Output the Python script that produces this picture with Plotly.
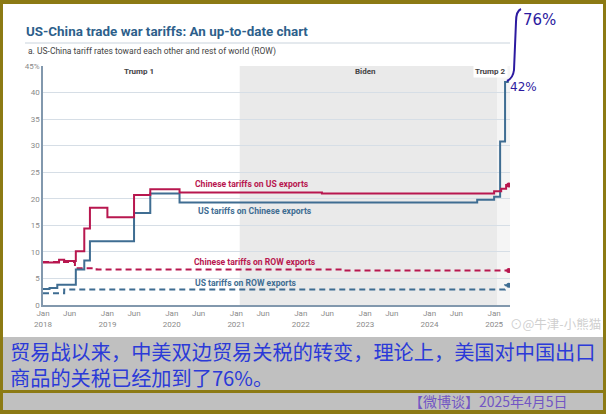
import plotly.graph_objects as go

# ---------------- data ----------------
cn_us_dates = ["2018-01-01", "2018-04-02", "2018-05-01", "2018-07-06", "2018-08-23", "2018-09-24",
               "2019-01-01", "2019-06-01", "2019-09-01", "2020-02-14", "2022-05-01",
               "2025-01-01", "2025-02-10", "2025-03-10", "2025-03-25"]
cn_us_vals = [8.0, 8.5, 8.3, 10.1, 14.4, 18.3, 16.5, 20.7, 21.8, 21.2, 21.0, 21.4, 21.9, 22.6, 22.6]

us_cn_dates = ["2018-01-01", "2018-02-07", "2018-03-23", "2018-07-06", "2018-08-23", "2018-09-24",
               "2019-06-01", "2019-09-01", "2020-02-14", "2024-09-27", "2025-01-01",
               "2025-02-04", "2025-03-04", "2025-03-25"]
us_cn_vals = [3.0, 3.2, 3.8, 6.7, 8.4, 12.0, 17.3, 21.0, 19.3, 19.8, 20.4, 30.8, 42.0, 42.0]

cn_row_dates = ["2018-01-01", "2018-07-01", "2018-11-01", "2022-09-01", "2025-03-25"]
cn_row_vals = [8.1, 6.9, 6.7, 6.5, 6.5]

us_row_dates = ["2018-01-01", "2018-05-01", "2025-03-04", "2025-03-25"]
us_row_vals = [2.2, 2.9, 3.7, 3.7]

x_tick_dates = []
x_tick_text = []
for yr in range(2018, 2026):
    x_tick_dates.append(f"{yr}-01-01")
    x_tick_text.append(f"Jan<br>{yr}")
    if yr < 2025:
        x_tick_dates.append(f"{yr}-06-01")
        x_tick_text.append("Jun")

y_tick_vals = [0, 5, 10, 15, 20, 25, 30, 35, 40, 45]
y_tick_text = ["0", "5", "10", "15", "20", "25", "30", "35", "40", "45%"]

periods = ["Trump 1", "Biden", "Trump 2"]
period_starts = ["2018-01-01", "2021-01-20", "2025-01-20"]
period_ends = ["2021-01-20", "2025-01-20", "2025-04-01"]

# ---------------- geometry helpers (pixel -> paper) ----------------
W, H = 606, 414
L, R, T, B = 43, 510, 66, 305
PW, PH = R - L, B - T


def px(x):
    return (x - L) / PW


def py(y):
    return (B - y) / PH


RED = "#b8174f"
BLUE = "#3f6d92"
GOLD = "#8c7a14"
CAPBG = "#c0c0c0"
INK = "#2c1aa0"

fig = go.Figure()

fig.add_trace(go.Scatter(x=us_row_dates, y=us_row_vals, mode="lines", line_shape="hv",
                         line=dict(color=BLUE, width=2, dash="6px,4px"), hoverinfo="skip"))
fig.add_trace(go.Scatter(x=cn_row_dates, y=cn_row_vals, mode="lines", line_shape="hv",
                         line=dict(color=RED, width=2, dash="6px,4px"), hoverinfo="skip"))
fig.add_trace(go.Scatter(x=us_cn_dates, y=us_cn_vals, mode="lines", line_shape="hv",
                         line=dict(color=BLUE, width=2), hoverinfo="skip"))
fig.add_trace(go.Scatter(x=cn_us_dates, y=cn_us_vals, mode="lines", line_shape="hv",
                         line=dict(color=RED, width=2), hoverinfo="skip"))
# end dots
fig.add_trace(go.Scatter(x=[cn_us_dates[-1], cn_row_dates[-1], us_row_dates[-1]],
                         y=[cn_us_vals[-1], cn_row_vals[-1], us_row_vals[-1]],
                         mode="markers", marker=dict(color=[RED, RED, BLUE], size=5),
                         hoverinfo="skip"))

shapes = []
# white panel
shapes.append(dict(type="rect", xref="paper", yref="paper", layer="below",
                   x0=px(3), x1=px(603), y0=py(337), y1=py(4),
                   fillcolor="white", line=dict(width=0)))
# caption grey
shapes.append(dict(type="rect", xref="paper", yref="paper", layer="below",
                   x0=px(3), x1=px(603), y0=py(390), y1=py(337),
                   fillcolor=CAPBG, line=dict(width=0)))
shapes.append(dict(type="rect", xref="paper", yref="paper", layer="below",
                   x0=px(3), x1=px(603), y0=py(410), y1=py(393),
                   fillcolor=CAPBG, line=dict(width=0)))
# period shading
shapes.append(dict(type="rect", xref="x", yref="y", layer="below",
                   x0=period_starts[1], x1=period_ends[1], y0=0, y1=45,
                   fillcolor="#eaeaea", line=dict(width=0)))
shapes.append(dict(type="rect", xref="x", yref="y", layer="below",
                   x0=period_starts[2], x1=period_ends[2], y0=0, y1=45,
                   fillcolor="#f5f5f5", line=dict(width=0)))
# title underline
shapes.append(dict(type="line", xref="paper", yref="paper", layer="below",
                   x0=px(25), x1=px(510), y0=py(43), y1=py(43),
                   line=dict(color="#c9d3dc", width=1)))
# handwritten bracket
path = (f"M {px(521)},{py(9)} Q {px(516)},{py(11)} {px(516)},{py(22)} "
        f"L {px(514)},{py(70)} Q {px(513)},{py(78)} {px(507)},{py(81)}")
shapes.append(dict(type="path", xref="paper", yref="paper", path=path,
                   line=dict(color=INK, width=2)))

annotations = []


def ann(text, x, y, size, color, xanchor="left", bold=False, family="Roboto", **kw):
    annotations.append(dict(text=(f"<b>{text}</b>" if bold else text), x=px(x), y=py(y),
                            xref="paper", yref="paper", xanchor=xanchor, yanchor="middle",
                            showarrow=False, font=dict(size=size, color=color, family=family), **kw))


ann("US-China trade war tariffs: An up-to-date chart", 24, 32, 13.4, "#2d5f8b", bold=True)
ann("a. US-China tariff rates toward each other and rest of world (ROW)", 26, 52, 8.5, "#444444")

ann(periods[0], 139, 72, 8, "#444444", xanchor="center", bold=True)
ann(periods[1], 365, 72, 8, "#444444", xanchor="center", bold=True)
ann(periods[2], 508, 72, 8, "#444444", xanchor="right", bold=True, bgcolor="white")

ann("Chinese tariffs on US exports", 193, 184, 8.6, RED, bold=True)
ann("US tariffs on Chinese exports", 196, 211, 8.6, BLUE, bold=True)
ann("Chinese tariffs on ROW exports", 192, 262, 8.6, RED, bold=True)
ann("US tariffs on ROW exports", 193, 283, 8.6, BLUE, bold=True)

ann("76%", 521, 20, 15, INK, family="DejaVu Sans")
ann("42%", 508, 87, 12, INK, family="DejaVu Sans")

ann("⊙@牛津-小熊猫", 603, 323, 12.5, "#cfcfcf", xanchor="right", family="Noto Sans CJK SC")

CJK = "Noto Sans CJK SC"
annotations.append(dict(
    text="贸易战以来，中美双边贸易关税的转变，理论上，美国对中国出口<br>商品的关税已经加到了76%。",
    x=px(8), y=py(364.5), xref="paper", yref="paper", xanchor="left", yanchor="middle",
    align="left", showarrow=False, font=dict(size=20.2, color="#2b3ad8", family=CJK)))
ann("【微博谈】2025年4月5日", 570, 401, 14, "#7256c4", xanchor="right", family=CJK)

fig.update_layout(
    width=W, height=H, autosize=False,
    margin=dict(l=L, r=W - R, t=T, b=H - B, pad=0),
    paper_bgcolor=GOLD, plot_bgcolor="rgba(0,0,0,0)",
    showlegend=False,
    shapes=shapes, annotations=annotations,
    xaxis=dict(type="date", range=["2018-01-01", "2025-04-01"], tickvals=x_tick_dates,
               ticktext=x_tick_text, showgrid=False, showline=True, linecolor="#8298ad",
               linewidth=1.5, ticks="", tickfont=dict(size=8, color="#8a8a8a", family="Roboto"),
               zeroline=False, fixedrange=True),
    yaxis=dict(range=[0, 45], tickvals=y_tick_vals, ticktext=y_tick_text, showgrid=True,
               gridcolor="#d6dee6", gridwidth=1, showline=True, linecolor="#8298ad", linewidth=1.5,
               ticks="", tickfont=dict(size=8, color="#8a8a8a", family="Roboto"),
               zeroline=False, fixedrange=True),
)

fig.write_html("out.html", config={"displayModeBar": False},
               post_script="document.body.style.margin='0';document.body.style.overflow='hidden';")
